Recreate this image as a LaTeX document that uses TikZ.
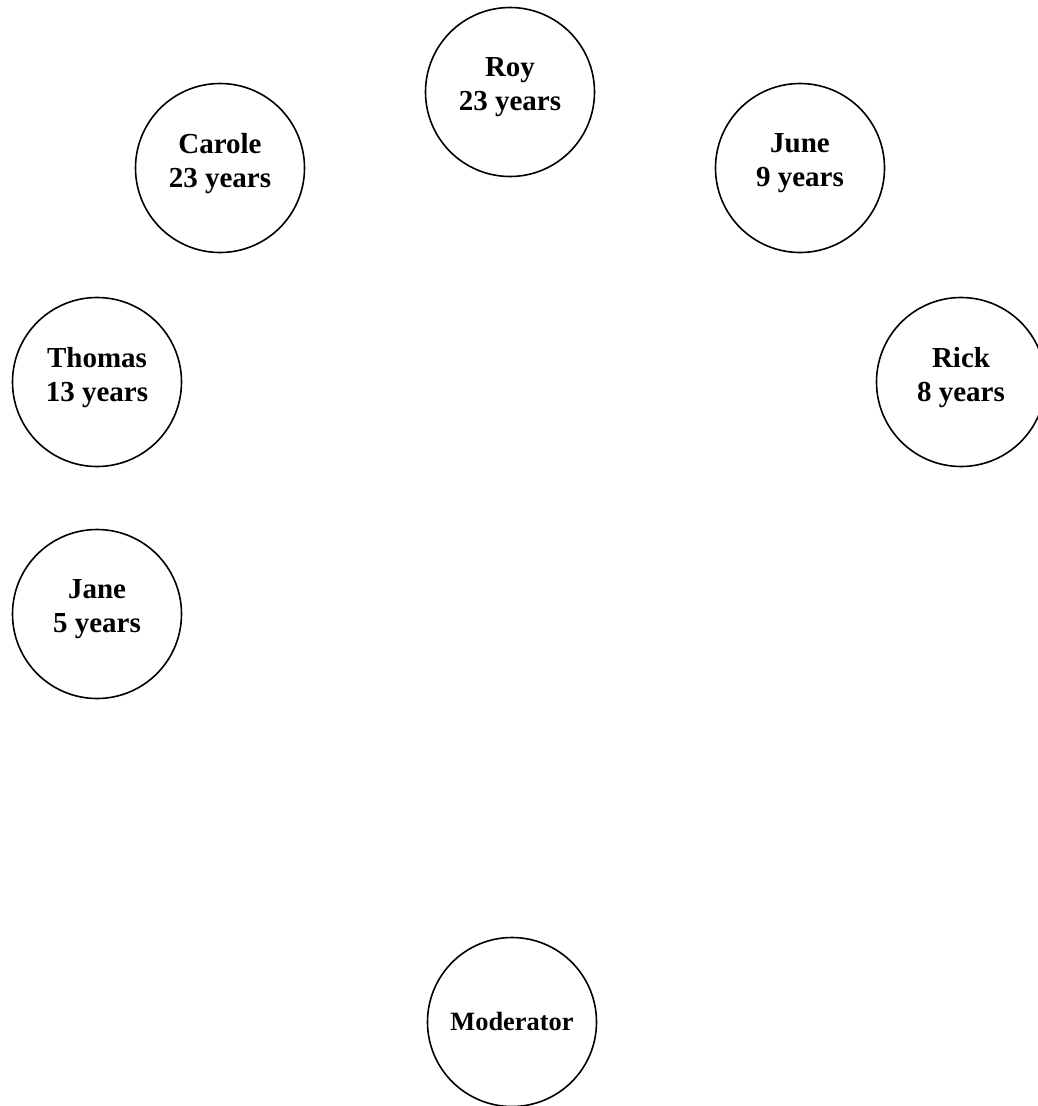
\documentclass[tikz,border=0pt]{standalone}
\usepackage{fontspec}
\setmainfont{Liberation Serif}
\begin{document}
\begin{tikzpicture}[x=1pt,y=1pt,
  person/.style={circle,draw=black,line width=1.6pt,minimum size=169pt,inner sep=0pt},
  lbl/.style={align=center,inner sep=0pt,font=\fontsize{29}{34}\selectfont\bfseries},
  modlbl/.style={align=center,inner sep=0pt,font=\fontsize{26.4}{31}\selectfont\bfseries}]
\useasboundingbox (0,0) rectangle (1038,-1106);
\node[person] (roy) at (510,-92) {};
\node[person] (carole) at (220,-168) {};
\node[person] (june) at (800,-168) {};
\node[person] (thomas) at (97,-382) {};
\node[person] (rick) at (961,-382) {};
\node[person] (jane) at (97,-614) {};
\node[person] (mod) at (512,-1022) {};
\node[lbl] (royt) at ([yshift=4.5pt]roy.center) {Roy\\23 years};
\node[lbl] (carolet) at ([yshift=4.5pt]carole.center) {Carole\\23 years};
\node[lbl] (junet) at ([yshift=4.5pt]june.center) {June\\9 years};
\node[lbl] (thomast) at ([yshift=4.5pt]thomas.center) {Thomas\\13 years};
\node[lbl] (rickt) at ([yshift=4.5pt]rick.center) {Rick\\8 years};
\node[lbl] (janet) at ([yshift=4.5pt]jane.center) {Jane\\5 years};
\node[modlbl] (modt) at ([yshift=1pt]mod.center) {Moderator};
\end{tikzpicture}
\end{document}
